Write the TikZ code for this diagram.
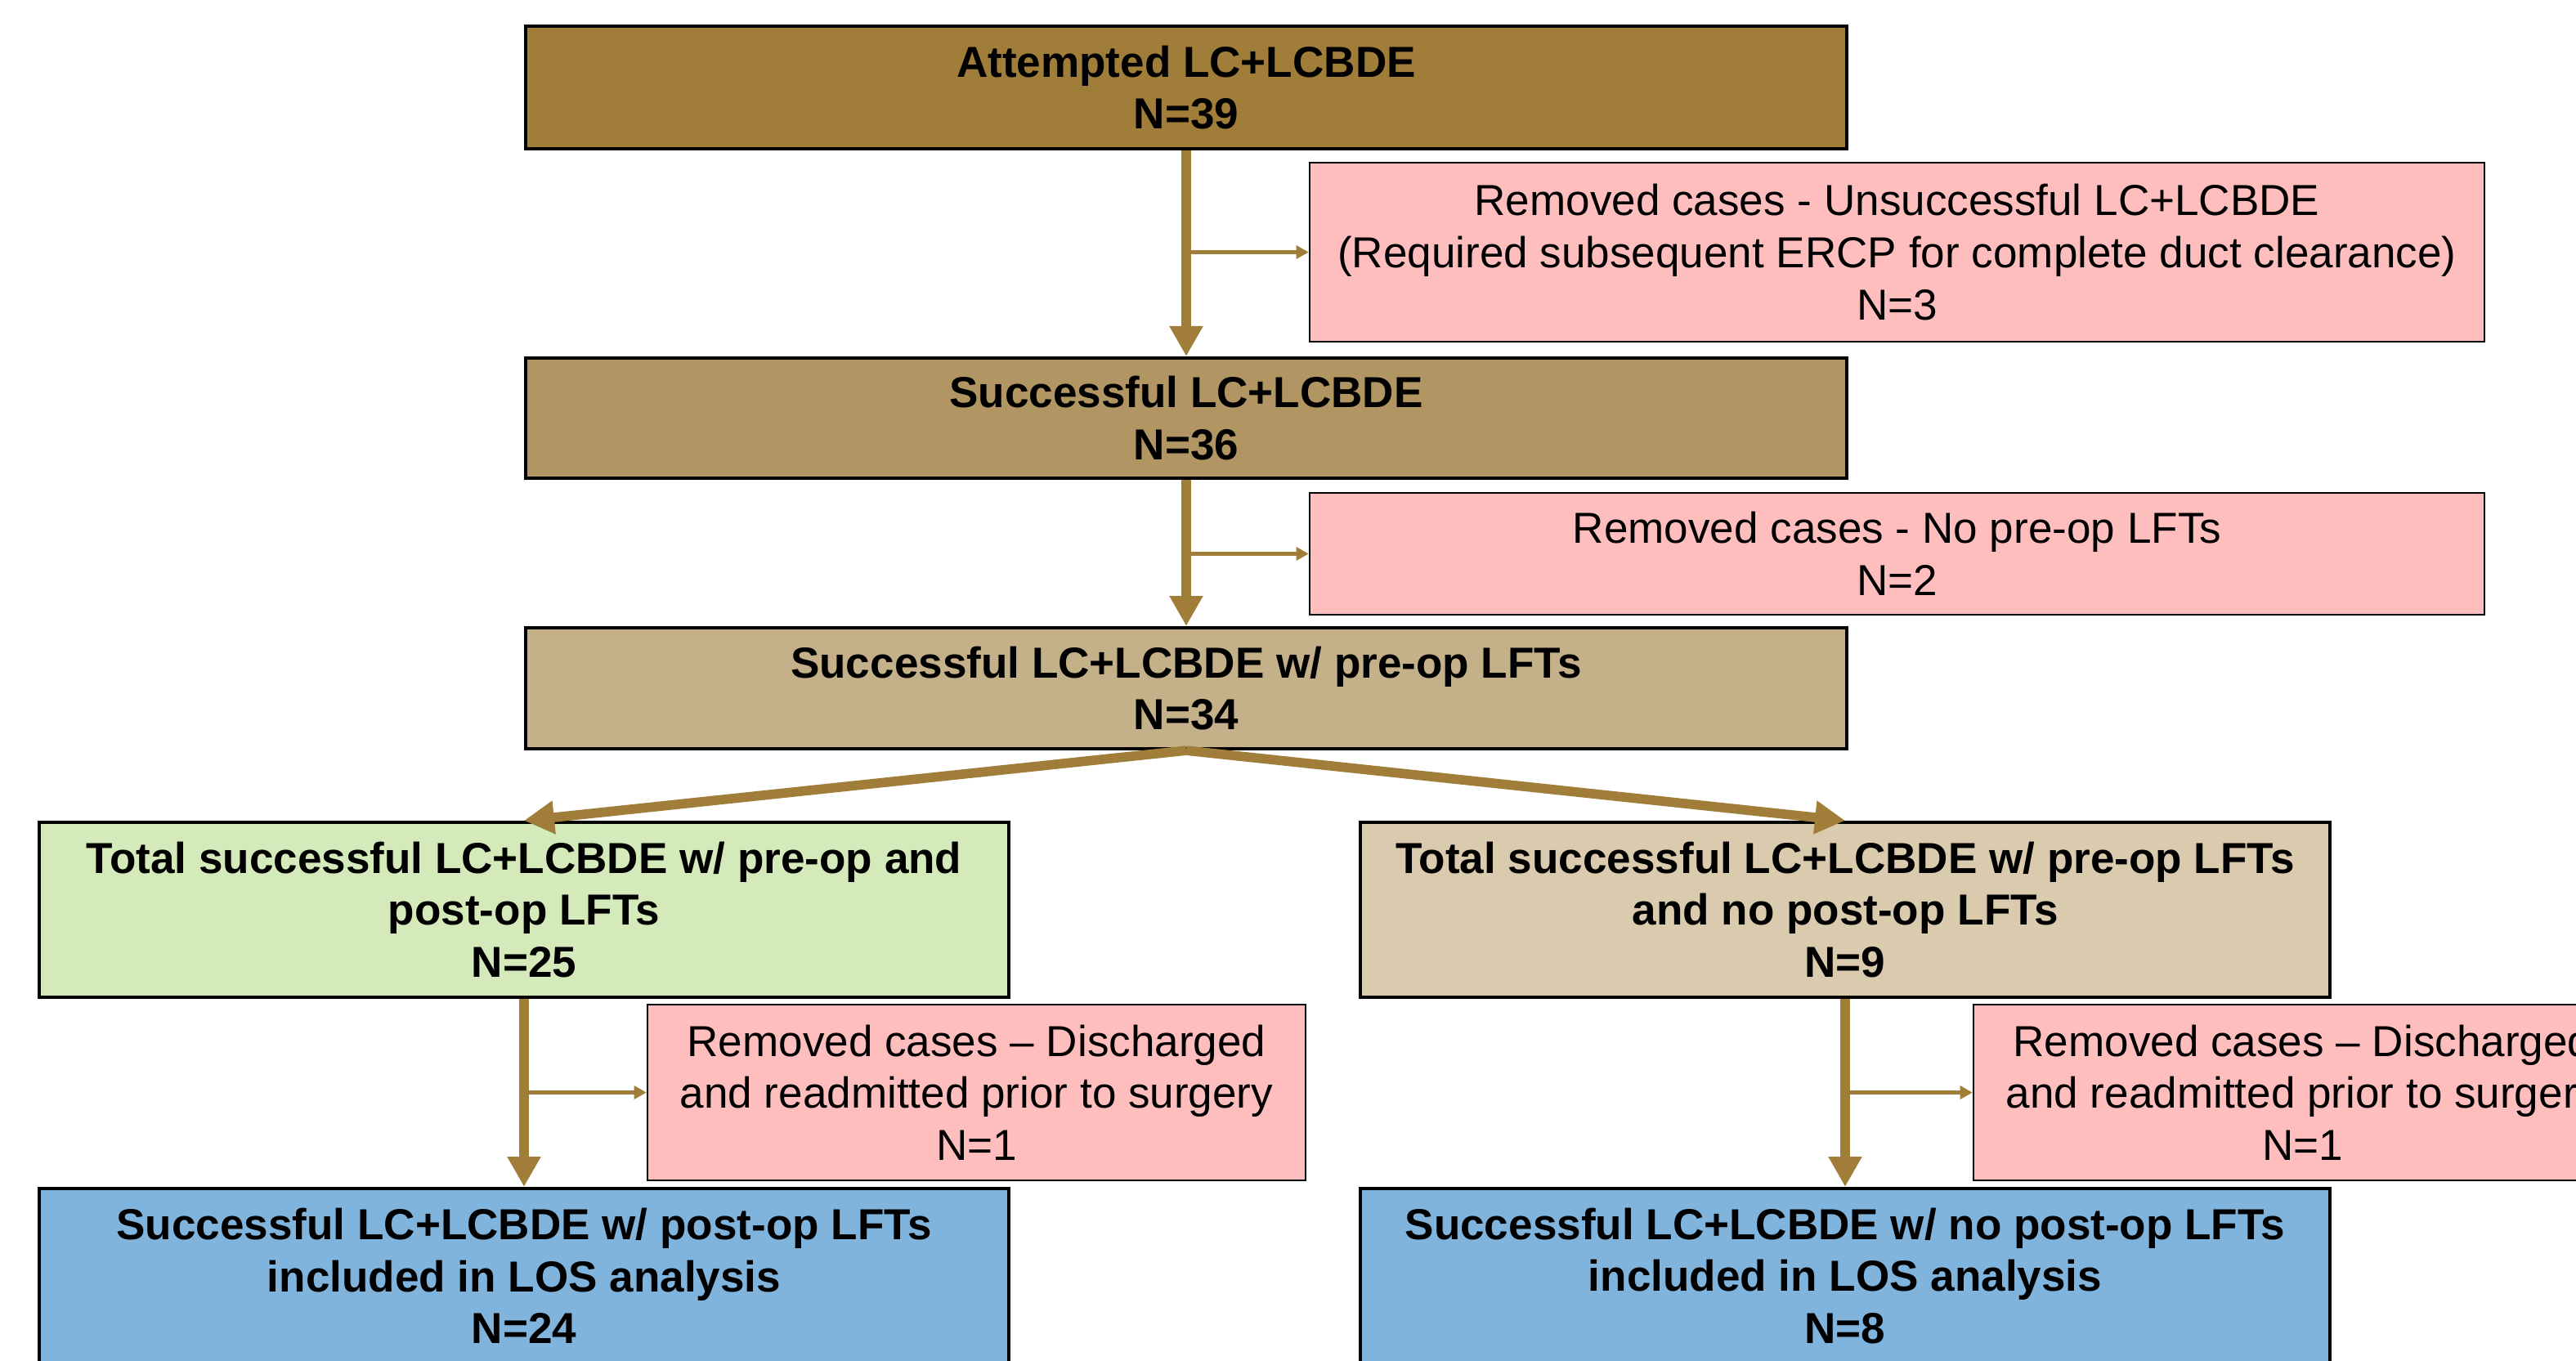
\documentclass[tikz,border=0pt]{standalone}
\usepackage{fontspec}
\setmainfont{Liberation Sans}
\usepackage{tikz}
\usetikzlibrary{arrows.meta, positioning}
\definecolor{goldbrown}{RGB}{160,126,58}
\definecolor{midbrown}{RGB}{177,150,100}
\definecolor{lightbrown}{RGB}{196,176,137}
\definecolor{palegreen}{RGB}{212,234,187}
\definecolor{paletan}{RGB}{218,203,175}
\definecolor{removedpink}{RGB}{255,190,190}
\definecolor{losblue}{RGB}{128,180,220}

\begin{document}
\begin{tikzpicture}[
    box/.style={rectangle, draw=black, line width=1.2pt, inner sep=0pt,
                align=center, font=\fontsize{15.1}{18.1}\selectfont\bfseries},
    removed/.style={rectangle, draw=black, line width=0.7pt, fill=removedpink,
                inner sep=0pt, minimum height=2.15cm, align=center,
                font=\fontsize{15.1}{18.1}\selectfont},
    mainarrow/.style={-{Triangle[length=10.5pt, width=11pt]}, line width=3.6pt, goldbrown},
    sidearrow/.style={-{Triangle[length=4.3pt, width=4.5pt]}, line width=1.5pt, goldbrown}
]
    \clip (0,0) rectangle (31.51,-16.65);

    % Nodes
    \node[box, fill=goldbrown, minimum width=16.16cm, minimum height=1.50cm]
        (attempt) at (14.51,-1.07) {Attempted LC+LCBDE\\N=39};
    \node[removed, minimum width=14.37cm, minimum height=2.19cm]
        (unsucc) at (23.205,-3.085) {Removed cases - Unsuccessful LC+LCBDE\\(Required subsequent ERCP for complete duct clearance)\\N=3};
    \node[box, fill=midbrown, minimum width=16.16cm, minimum height=1.47cm]
        (success) at (14.51,-5.115) {Successful LC+LCBDE\\N=36};
    \node[removed, minimum width=14.37cm, minimum height=1.49cm]
        (nopre) at (23.205,-6.775) {Removed cases - No pre-op LFTs\\N=2};
    \node[box, fill=lightbrown, minimum width=16.16cm, minimum height=1.48cm]
        (preop) at (14.51,-8.42) {Successful LC+LCBDE w/ pre-op LFTs\\N=34};
    \node[box, fill=palegreen, minimum width=11.86cm, minimum height=2.14cm]
        (bothlft) at (6.41,-11.13) {Total successful LC+LCBDE w/ pre-op and\\post-op LFTs\\N=25};
    \node[box, fill=paletan, minimum width=11.86cm, minimum height=2.14cm]
        (nopost) at (22.57,-11.13) {Total successful LC+LCBDE w/ pre-op LFTs\\and no post-op LFTs\\N=9};
    \node[removed, minimum width=8.05cm]
        (readmleft) at (11.945,-13.365) {Removed cases -- Discharged\\and readmitted prior to surgery\\N=1};
    \node[removed, minimum width=8.05cm]
        (readmright) at (28.165,-13.365) {Removed cases -- Discharged\\and readmitted prior to surgery\\N=1};
    \node[box, fill=losblue, minimum width=11.86cm, minimum height=2.14cm]
        (postlos) at (6.41,-15.61) {Successful LC+LCBDE w/ post-op LFTs\\included in LOS analysis\\N=24};
    \node[box, fill=losblue, minimum width=11.86cm, minimum height=2.14cm]
        (nolos) at (22.57,-15.61) {Successful LC+LCBDE w/ no post-op LFTs\\included in LOS analysis\\N=8};

    % Arrows
    \draw[mainarrow] (attempt) -- (success);
    \draw[sidearrow] (attempt.south |- unsucc.west) -- (unsucc.west);
    \draw[mainarrow] (success) -- (preop);
    \draw[sidearrow] (success.south |- nopre.west) -- (nopre.west);
    \draw[mainarrow, line width=3.3pt] (preop.south) -- (bothlft.north);
    \draw[mainarrow, line width=3.3pt] (preop.south) -- (nopost.north);
    \draw[mainarrow, line width=3.2pt] (bothlft) -- (postlos);
    \draw[sidearrow, line width=1.3pt] (bothlft.south |- readmleft.west) -- (readmleft.west);
    \draw[mainarrow, line width=3.2pt] (nopost) -- (nolos);
    \draw[sidearrow, line width=1.3pt] (nopost.south |- readmright.west) -- (readmright.west);
\end{tikzpicture}
\end{document}
